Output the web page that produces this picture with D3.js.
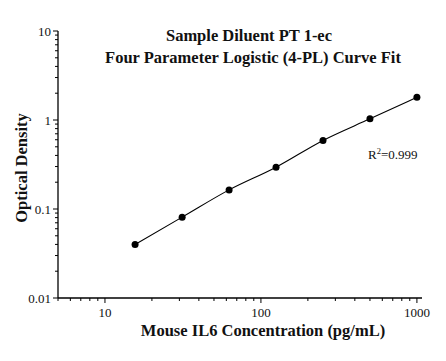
<!DOCTYPE html>
<html>
<head>
<meta charset="utf-8">
<script src="https://cdn.jsdelivr.net/npm/d3@7"></script>
<style>
  body { margin: 0; background: #fff; }
  text { font-family: "Liberation Serif", "Times New Roman", serif; fill: #111; }
</style>
</head>
<body>
<div id="chart"></div>
<script>
// standards (pg/mL) and measured OD
const concentrations = [15.6, 31.25, 62.5, 125, 250, 500, 1000]
const opticalDensity = [0.040, 0.081, 0.164, 0.295, 0.59, 1.03, 1.80]
const xMajorTicks = [10, 100, 1000]
const yMajorTicks = [0.01, 0.1, 1, 10]
const titleLines = ["Sample Diluent PT 1-ec", "Four Parameter Logistic (4-PL) Curve Fit"]
const rSquared = "0.999"

const width = 446, height = 361
const margin = { top: 31, right: 24, bottom: 63, left: 58 }

const svg = d3.select('#chart')
  .append('svg')
    .attr('width', width)
    .attr('height', height)

const x = d3.scaleLog()
  .domain([5, 1078])
  .range([margin.left, width - margin.right])

const y = d3.scaleLog()
  .domain([0.01, 10])
  .range([height - margin.bottom, margin.top])

// x axis (ticks pointing down, minor ticks shorter)
const xAxis = svg.append('g').attr('transform', `translate(0,${y(0.01)})`)
xAxis.append('line')
  .attr('x1', x.range()[0]).attr('x2', x.range()[1])
  .attr('stroke', '#000').attr('stroke-width', 1.3)
xAxis.selectAll('.tick')
  .data(x.ticks())
  .enter()
  .append('line')
    .attr('x1', d => x(d)).attr('x2', d => x(d))
    .attr('y1', 0)
    .attr('y2', d => xMajorTicks.includes(d) ? 5 : 3)
    .attr('stroke', '#000').attr('stroke-width', 1)
xAxis.selectAll('.lbl')
  .data(xMajorTicks)
  .enter()
  .append('text')
    .attr('x', d => x(d))
    .attr('y', 18.5)
    .attr('text-anchor', 'middle')
    .style('font-size', '13px')
    .text(d => d)

// y axis (ticks pointing left)
const yAxis = svg.append('g').attr('transform', `translate(${x(5)},0)`)
yAxis.append('line')
  .attr('y1', y.range()[0]).attr('y2', y.range()[1])
  .attr('stroke', '#000').attr('stroke-width', 1.3)
yAxis.selectAll('.tick')
  .data(y.ticks())
  .enter()
  .append('line')
    .attr('y1', d => y(d)).attr('y2', d => y(d))
    .attr('x1', 0)
    .attr('x2', d => yMajorTicks.includes(d) ? -5 : -3)
    .attr('stroke', '#000').attr('stroke-width', 1)
yAxis.selectAll('.lbl')
  .data(yMajorTicks)
  .enter()
  .append('text')
    .attr('x', -7)
    .attr('y', d => y(d))
    .attr('dy', '0.35em')
    .attr('text-anchor', 'end')
    .style('font-size', '13px')
    .text(d => d)

// fitted curve through the standards
const points = concentrations.map((c, i) => [c, opticalDensity[i]])
svg.append('path')
  .datum(points)
  .attr('fill', 'none')
  .attr('stroke', '#000')
  .attr('stroke-width', 1.1)
  .attr('d', d3.line()
    .x(d => x(d[0]))
    .y(d => y(d[1]))
    .curve(d3.curveMonotoneX))

svg.append('g')
  .selectAll('circle')
  .data(points)
  .enter()
  .append('circle')
    .attr('cx', d => x(d[0]))
    .attr('cy', d => y(d[1]))
    .attr('r', 3.5)
    .attr('fill', '#000')

// titles
svg.append('text')
  .attr('x', 249).attr('y', 41)
  .attr('text-anchor', 'middle')
  .style('font-size', '16.5px').style('font-weight', 'bold')
  .text(titleLines[0])
svg.append('text')
  .attr('x', 253).attr('y', 63)
  .attr('text-anchor', 'middle')
  .style('font-size', '16.5px').style('font-weight', 'bold')
  .text(titleLines[1])

// axis labels
svg.append('text')
  .attr('x', 263).attr('y', 336)
  .attr('text-anchor', 'middle')
  .style('font-size', '16.5px').style('font-weight', 'bold')
  .text('Mouse IL6 Concentration (pg/mL)')
svg.append('text')
  .attr('transform', 'translate(27,168) rotate(-90)')
  .attr('text-anchor', 'middle')
  .style('font-size', '16.5px').style('font-weight', 'bold')
  .text('Optical Density')

// R squared
const r2 = svg.append('text')
  .attr('x', 368).attr('y', 159)
  .style('font-size', '13px')
r2.append('tspan').text('R')
r2.append('tspan').attr('dy', -5).style('font-size', '8.5px').text('2')
r2.append('tspan').attr('dy', 5).text('=' + rSquared)
</script>
</body>
</html>
